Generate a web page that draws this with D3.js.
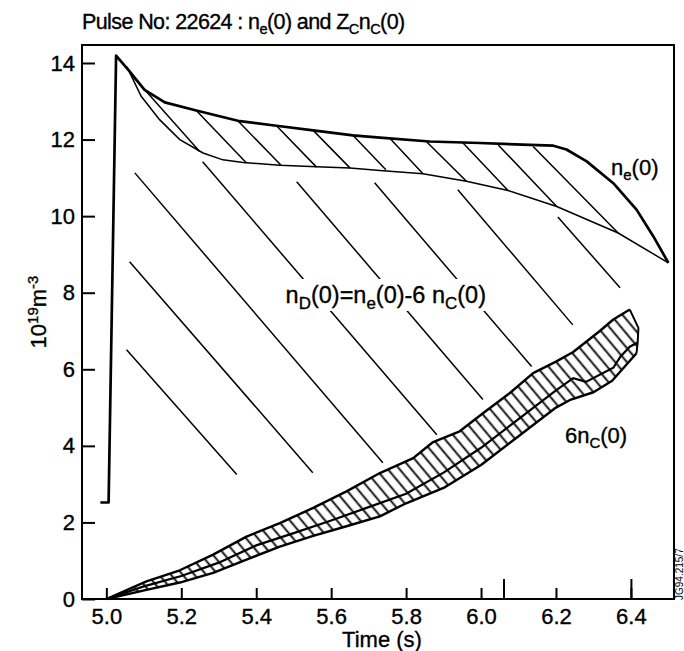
<!DOCTYPE html>
<html><head><meta charset="utf-8">
<script src="https://cdn.jsdelivr.net/npm/d3@7"></script>
<style>
body{margin:0;background:#fff;}
text{font-family:"Liberation Sans",Arial,Helvetica,sans-serif;fill:#000;stroke:#000;stroke-width:0.35px;}
</style></head><body>
<svg id="chart" width="684" height="651"></svg>
<script>
// ---------- data ----------
const xTicks = [5.0, 5.2, 5.4, 5.6, 5.8, 6.0, 6.2, 6.4];
const xLongTicks = [6.06, 6.4];
const yTicks = [0, 2, 4, 6, 8, 10, 12, 14];

// n_e(0) upper (thick) trace: [time, value]
const neUpper = [[4.984,2.52],[5.006,2.52],[5.026,14.19],[5.062,13.78],[5.102,13.30],[5.156,12.97],
  [5.240,12.76],[5.351,12.49],[5.454,12.36],[5.552,12.24],[5.658,12.11],[5.730,12.05],[5.863,11.95],
  [5.997,11.91],[6.130,11.86],[6.193,11.84],[6.228,11.74],[6.282,11.43],[6.353,10.86],[6.415,10.17],
  [6.460,9.47],[6.500,8.78]];
// lower (thin) boundary of the n_e band
const neLower = [[5.055,13.90],[5.093,13.13],[5.142,12.52],[5.196,12.00],[5.258,11.65],[5.311,11.47],
  [5.365,11.40],[5.463,11.33],[5.561,11.29],[5.650,11.26],[5.730,11.19],[5.845,11.11],[5.961,10.91],
  [6.072,10.67],[6.202,10.25],[6.366,9.56],[6.500,8.78]];
// short hatch strokes inside the n_e band: [[t1,v1],[t2,v2]]
const neHatch = [
  [[5.071,13.65],[5.249,11.69]], [[5.240,12.76],[5.374,11.39]], [[5.351,12.49],[5.467,11.32]],
  [[5.454,12.36],[5.561,11.28]], [[5.552,12.24],[5.650,11.26]], [[5.658,12.11],[5.746,11.21]],
  [[5.756,12.04],[5.845,11.11]], [[5.854,11.95],[5.961,10.91]], [[5.952,11.91],[6.072,10.67]],
  [[6.046,11.86],[6.202,10.25]], [[6.139,11.82],[6.366,9.56]]];
// long hatch strokes of the n_D(0) region
const ndHatch = [
  [[5.054,6.51],[5.348,3.25]], [[5.062,8.81],[5.551,3.30]], [[5.076,11.13],[5.738,3.56]],
  [[5.257,11.42],[5.882,4.29]], [[5.508,10.90],[6.005,5.21]], [[5.716,10.87],[6.135,6.07]],
  [[5.938,10.69],[6.245,7.16]], [[6.205,9.98],[6.371,8.13]]];
// 6 n_C(0) band: upper, middle and lower traces
const ncUpper = [[5.0,0],[5.107,0.46],[5.196,0.75],[5.285,1.16],[5.374,1.63],[5.463,1.98],[5.552,2.38],
  [5.641,2.81],[5.730,3.29],[5.819,3.68],[5.872,4.10],[5.943,4.38],[6.006,4.86],[6.077,5.38],[6.139,5.90],
  [6.200,6.20],[6.246,6.45],[6.317,7.00],[6.353,7.30],[6.397,7.56]];
const ncEdge = [[6.397,7.56],[6.420,7.08],[6.418,6.70],[6.415,6.42]];
const ncMiddle = [[5.0,0],[5.1,0.33],[5.2,0.60],[5.3,0.95],[5.4,1.40],[5.5,1.72],[5.6,2.05],[5.7,2.40],
  [5.8,2.75],[5.9,3.30],[6.0,3.95],[6.1,4.70],[6.2,5.45],[6.246,5.77],[6.28,5.67],[6.353,6.04],
  [6.372,6.33],[6.397,6.59],[6.418,6.70]];
const ncLower = [[5.0,0],[5.107,0.24],[5.196,0.43],[5.285,0.68],[5.374,1.03],[5.463,1.37],[5.552,1.65],
  [5.641,1.90],[5.730,2.16],[5.8,2.50],[5.9,2.90],[6.0,3.50],[6.1,4.25],[6.2,5.00],[6.24,5.21],
  [6.3,5.40],[6.35,5.70],[6.415,6.42]];

// ---------- chart ----------
const svg = d3.select("#chart");
const W = 684, H = 651;
svg.append("rect").attr("width", W).attr("height", H).attr("fill", "#fff");

const x = d3.scaleLinear().domain([4.935, 6.515]).range([82, 674]);
const y = d3.scaleLinear().domain([0, 14.47]).range([599, 45]);
const line = d3.line().x(d => x(d[0])).y(d => y(d[1]));

// hatch pattern for the 6 n_C band
const defs = svg.append("defs");
const pat = defs.append("pattern").attr("id", "hatch").attr("patternUnits", "userSpaceOnUse")
  .attr("width", 9).attr("height", 9).attr("patternTransform", "rotate(-40)");
pat.append("line").attr("x1", 4.5).attr("y1", -1).attr("x2", 4.5).attr("y2", 10)
  .attr("stroke", "#000").attr("stroke-width", 1.8);

const bandPoly = ncUpper.concat(ncEdge.slice(1), ncLower.slice().reverse());
svg.append("path").attr("d", line(bandPoly) + "Z").attr("fill", "url(#hatch)").attr("stroke", "none");

[ncUpper, ncLower].forEach(s => svg.append("path").attr("d", line(s)).attr("fill", "none")
  .attr("stroke", "#000").attr("stroke-width", 2.4).attr("stroke-linejoin", "round"));
svg.append("path").attr("d", line(ncMiddle)).attr("fill", "none").attr("stroke", "#000").attr("stroke-width", 2.2);
svg.append("path").attr("d", line(ncEdge)).attr("fill", "none").attr("stroke", "#000").attr("stroke-width", 2);

// n_e band
svg.append("path").attr("d", line(neLower)).attr("fill", "none").attr("stroke", "#000").attr("stroke-width", 1.5);
svg.selectAll(".neh").data(neHatch).enter().append("path").attr("d", d => line(d))
  .attr("stroke", "#000").attr("stroke-width", 1.5).attr("fill", "none");
svg.append("path").attr("d", line(neUpper)).attr("fill", "none").attr("stroke", "#000")
  .attr("stroke-width", 2.7).attr("stroke-linejoin", "round");

// n_D region long hatches
svg.selectAll(".ndh").data(ndHatch).enter().append("path").attr("d", d => line(d))
  .attr("stroke", "#000").attr("stroke-width", 1.5).attr("fill", "none");

// labels
function richText(g, parts, size, subScale) {
  const t = g.append("text").attr("font-size", size);
  const sc = subScale || 0.68;
  let shift = 0;
  parts.forEach(p => {
    const ts = t.append("tspan").text(p[0]);
    const want = p[1] === "sub" ? size * 0.24 : p[1] === "sup" ? -size * 0.38 : 0;
    ts.attr("dy", want - shift);
    if (p[1]) ts.attr("font-size", size * sc);
    shift = want;
  });
  return t;
}
// white mask behind n_D label
svg.append("rect").attr("x", 276).attr("y", 279).attr("width", 212).attr("height", 32).attr("fill", "#fff");
richText(svg, [["n"],["D","sub"],["(0)=n"],["e","sub"],["(0)-6 n"],["C","sub"],["(0)"]], 23.5, 0.72)
  .attr("x", 486).attr("y", 303).attr("text-anchor", "end");
richText(svg, [["n"],["e","sub"],["(0)"]], 22).attr("x", 611).attr("y", 175);
richText(svg, [["6n"],["C","sub"],["(0)"]], 22).attr("x", 565).attr("y", 443);

// title
richText(svg, [["Pulse No: 22624 : n"],["e","sub"],["(0) and Z"],["C","sub"],["n"],["C","sub"],["(0)"]], 21.5)
  .attr("x", 82).attr("y", 29).attr("letter-spacing", -0.6);

// axes
const gx = svg.append("g").attr("transform", "translate(0,599)")
  .call(d3.axisBottom(x).tickValues(xTicks).tickSize(-11).tickPadding(9).tickFormat(d3.format(".1f")));
const gx2 = svg.append("g").attr("transform", "translate(0,599)")
  .call(d3.axisBottom(x).tickValues(xLongTicks).tickSize(-20).tickFormat(""));
const gy = svg.append("g").attr("transform", "translate(82,0)")
  .call(d3.axisLeft(y).tickValues(yTicks).tickSize(-13).tickPadding(7));
[gx, gx2, gy].forEach(g => {
  g.select(".domain").remove();
  g.selectAll("line").attr("stroke", "#000").attr("stroke-width", 2);
  g.selectAll("text").attr("font-size", 22).attr("fill", "#000")
    .style("font-family", '"Liberation Sans",Arial,sans-serif');
});

// frame
svg.append("rect").attr("x", 82).attr("y", 45).attr("width", 592).attr("height", 554)
  .attr("fill", "none").attr("stroke", "#000").attr("stroke-width", 2);

// axis titles
svg.append("text").attr("x", 382).attr("y", 647).attr("text-anchor", "middle").attr("font-size", 22).text("Time (s)");
richText(svg, [["10"],["19","sup"],["m"],["-3","sup"]], 22)
  .attr("text-anchor", "middle").attr("transform", "translate(46,312) rotate(-90)");

// figure id at right edge
svg.append("text").attr("font-size", 10).style("stroke-width", "0px")
  .attr("transform", "translate(683,600) rotate(-90)").text("JG94.215/7");
</script>
</body></html>
